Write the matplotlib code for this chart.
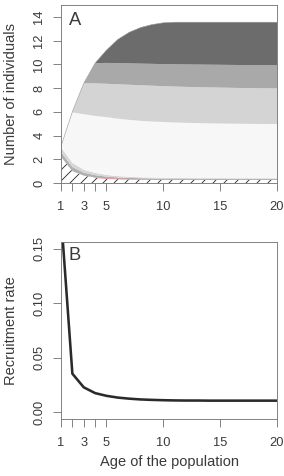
import numpy as np
import matplotlib
matplotlib.use('Agg')
import matplotlib.pyplot as plt

# age of the population
ages = np.arange(1, 21)

# panel A: upper boundary of each stacked layer (number of individuals)
hatch_top = [2.2, 1.0, 0.62, 0.46, 0.38, 0.34, 0.32, 0.31, 0.30, 0.30,
             0.30, 0.30, 0.30, 0.30, 0.30, 0.30, 0.30, 0.30, 0.30, 0.30]
grey1_top = [2.6, 1.35, 0.88, 0.66, 0.54, 0.47, 0.43, 0.40, 0.38, 0.37,
             0.36, 0.36, 0.36, 0.35, 0.35, 0.35, 0.35, 0.35, 0.35, 0.35]
grey2_top = [3.0, 1.7, 1.12, 0.85, 0.68, 0.58, 0.52, 0.48, 0.46, 0.44,
             0.43, 0.42, 0.41, 0.41, 0.41, 0.40, 0.40, 0.40, 0.40, 0.40]
white_top = [3.1, 5.95, 5.8, 5.65, 5.55, 5.42, 5.32, 5.24, 5.18, 5.14,
             5.10, 5.07, 5.05, 5.03, 5.01, 5.0, 4.99, 4.98, 4.97, 4.97]
light_top = [3.1, 6.0, 8.4, 8.4, 8.36, 8.32, 8.28, 8.24, 8.2, 8.16,
             8.13, 8.1, 8.08, 8.06, 8.04, 8.02, 8.0, 7.99, 7.98, 7.97]
mid_top = [3.1, 6.0, 8.4, 10.1, 10.12, 10.1, 10.08, 10.06, 10.04, 10.02,
           10.0, 9.99, 9.98, 9.97, 9.96, 9.95, 9.94, 9.93, 9.92, 9.92]
dark_top = [3.1, 6.0, 8.4, 10.1, 11.2, 12.1, 12.7, 13.1, 13.35, 13.5,
            13.55, 13.55, 13.55, 13.55, 13.55, 13.55, 13.55, 13.55, 13.55, 13.55]

# panel B: recruitment rate
recruit = [0.18, 0.0355, 0.023, 0.0177, 0.0152, 0.0136, 0.0126, 0.0119, 0.0115, 0.0112,
           0.0110, 0.0109, 0.0109, 0.0108, 0.0108, 0.0108, 0.0108, 0.0108, 0.0108, 0.0108]

xticks = [1, 2, 3, 4, 5, 10, 15, 20]
xlabs = ['1', '', '3', '', '5', '10', '15', '20']

txtcol = '#3a3a3a'
boxcol = '#7a7a7a'
plt.rcParams['font.family'] = ['Liberation Sans', 'DejaVu Sans']
plt.rcParams['hatch.color'] = '#222222'
plt.rcParams['hatch.linewidth'] = 0.9

dpi = 66
fig = plt.figure(figsize=(284/dpi, 476/dpi), dpi=dpi)
axA = fig.add_axes([61/284, 1-183/476, 216/284, 178/476])
axB = fig.add_axes([61/284, 1-419/476, 216/284, 177/476])

# stacked layers, bottom to top
zero = np.zeros(len(ages))
axA.fill_between(ages, zero, hatch_top, facecolor='white', edgecolor='#222222',
                 linewidth=0, hatch='//')
axA.plot(ages[3:], hatch_top[3:], color='#e59a9a', lw=1.0)
axA.fill_between(ages, hatch_top, grey1_top, facecolor='#b0b0b0', linewidth=0)
axA.fill_between(ages, grey1_top, grey2_top, facecolor='#d6d6d6', linewidth=0)
axA.fill_between(ages, grey2_top, white_top, facecolor='#f7f7f7', linewidth=0)
axA.fill_between(ages, white_top, light_top, facecolor='#d4d4d4', linewidth=0)
axA.fill_between(ages, light_top, mid_top, facecolor='#a9a9a9', linewidth=0)
axA.fill_between(ages, mid_top, dark_top, facecolor='#6c6c6c', linewidth=0)
axA.plot(ages, dark_top, color='#9a9a9a', lw=0.6)

axA.set_xlim(1, 20)
axA.set_ylim(0, 15)
axA.set_yticks(np.arange(0, 15, 2))
axA.set_ylabel('Number of individuals', fontsize=16, color=txtcol)
axA.text(0.065, 0.915, 'A', transform=axA.transAxes, fontsize=20,
         ha='center', va='center', color=txtcol)

axB.plot(ages, recruit, color='#2a2a2a', lw=2.8, solid_joinstyle='round')
axB.set_xlim(1, 20)
axB.set_ylim(-0.006, 0.156)
axB.set_yticks([0, 0.05, 0.10, 0.15])
axB.set_yticklabels(['0.00', '0.05', '0.10', '0.15'])
axB.set_ylabel('Recruitment rate', fontsize=16, color=txtcol)
axB.set_xlabel('Age of the population', fontsize=16, color=txtcol, labelpad=6)
axB.text(0.065, 0.925, 'B', transform=axB.transAxes, fontsize=20,
         ha='center', va='center', color=txtcol)

for ax in (axA, axB):
    ax.set_xticks(xticks)
    ax.set_xticklabels(xlabs)
    for s in ax.spines.values():
        s.set_color(boxcol)
        s.set_linewidth(1.0)
    ax.tick_params(axis='both', length=9, width=1.0, color=boxcol,
                   labelcolor=txtcol, labelsize=14, pad=8)
    ax.tick_params(axis='x', pad=11)
    ax.tick_params(axis='y', labelrotation=90)
    for lab in ax.get_yticklabels():
        lab.set_va('center')
    ax.yaxis.set_label_coords(-0.2, 0.5)

fig.savefig('out.png', dpi=dpi)
